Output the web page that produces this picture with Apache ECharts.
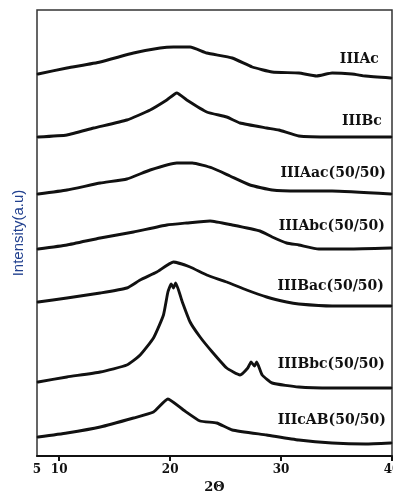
<!DOCTYPE html>
<html>
<head>
<meta charset="utf-8">
<script src="https://cdn.jsdelivr.net/npm/echarts@6/dist/echarts.min.js"></script>
<style>
  html, body { margin: 0; padding: 0; background: #fff; }
  #chart { width: 393px; height: 492px; }
</style>
</head>
<body>
<div id="chart"></div>
<script>
// sample names, top to bottom
const names = ['IIIAc', 'IIIBc', 'IIIAac(50/50)', 'IIIAbc(50/50)', 'IIIBac(50/50)', 'IIIBbc(50/50)', 'IIIcAB(50/50)'];

// 2θ positions and stacked intensities (offset a.u.)
const thetaIIIAc = [8.1, 10.7, 13.7, 16.7, 19.1, 20.3, 21.8, 23.3, 25.6, 27.4, 29.2, 31.6, 33.2, 34.6, 36.4, 37.6, 39.9];
const intIIIAc   = [382, 388, 394, 403, 408, 409, 409, 403, 398, 389, 384, 383, 380, 383, 382, 380, 378];

const thetaIIIBc = [8.1, 10.7, 13.1, 16.1, 18.2, 19.7, 20.6, 21.5, 23.3, 25.1, 26.3, 28.7, 29.8, 31.6, 34.6, 39.9];
const intIIIBc   = [319, 321, 328, 336, 346, 356, 363, 356, 344, 339, 333, 328, 326, 320, 319, 319];

const thetaIIIAac = [8.1, 10.7, 13.7, 16.1, 18.2, 20.6, 22.0, 23.8, 25.4, 27.2, 29.2, 31.6, 34.6, 39.9];
const intIIIAac   = [262, 266, 273, 277, 286, 293, 293, 288, 280, 271, 266, 265, 265, 262];

const thetaIIIAbc = [8.1, 10.7, 13.7, 16.7, 19.7, 21.5, 23.6, 25.6, 28.1, 29.2, 30.5, 31.6, 33.4, 36.1, 39.9];
const intIIIAbc   = [207, 211, 218, 224, 231, 233, 235, 231, 225, 219, 213, 211, 207, 207, 208];

const thetaIIIBac = [8.1, 10.7, 13.7, 16.1, 17.3, 18.8, 20.3, 21.8, 23.3, 25.1, 26.9, 28.7, 30.5, 31.6, 34.6, 39.9];
const intIIIBac   = [154, 158, 163, 168, 176, 184, 194, 189, 181, 174, 166, 159, 154, 152, 150, 150];

const thetaIIIBbc = [8.1, 10.7, 13.7, 16.1, 17.3, 18.5, 19.4, 19.8, 20.1, 20.3, 20.5, 21.1, 21.8, 22.7, 23.8, 25.1, 26.3, 27.0, 27.3, 27.6, 27.8, 28.3, 29.2, 31.6, 34.6, 39.9];
const intIIIBbc   = [74, 79, 84, 91, 101, 118, 141, 164, 172, 168, 173, 154, 134, 119, 104, 88, 81, 88, 94, 90, 94, 81, 73, 69, 68, 68];

const thetaIIIcAB = [8.1, 10.7, 13.7, 16.7, 18.5, 19.8, 21.2, 22.7, 24.2, 25.6, 28.7, 31.6, 34.6, 37.6, 39.9];
const intIIIcAB   = [19, 23, 29, 38, 44, 57, 46, 35, 33, 26, 21, 16, 13, 12, 13];

// x tick labels (left edge is labelled 5 in the original)
const tickValues = [10, 20, 30, 40];
const labelValues = [8, 10, 20, 30, 40];

const thetas = [thetaIIIAc, thetaIIIBc, thetaIIIAac, thetaIIIAbc, thetaIIIBac, thetaIIIBbc, thetaIIIcAB];
const ints = [intIIIAc, intIIIBc, intIIIAac, intIIIAbc, intIIIBac, intIIIBbc, intIIIcAB];

// label offsets from each curve's right end
const labelOffsets = [[-12, -19], [-9, -16], [-5, -21], [-6, -22], [-7, -20], [-6, -24], [-5, -23]];

const chart = echarts.init(document.getElementById('chart'));

const series = names.map((name, i) => ({
  name: name,
  type: 'line',
  data: thetas[i].map((t, j) => [t, ints[i][j]]),
  symbol: 'none',
  smooth: 0.15,
  silent: true,
  lineStyle: { color: '#111', width: 2.9, join: 'round', cap: 'round' },
  endLabel: {
    show: true,
    formatter: name,
    distance: 0,
    align: 'right',
    offset: labelOffsets[i],
    fontFamily: 'DejaVu Serif',
    fontWeight: 'bold',
    fontSize: 14,
    color: '#111'
  }
}));

chart.setOption({
  animation: false,
  backgroundColor: '#fff',
  grid: {
    left: 37,
    right: 1,
    top: 10,
    bottom: 36,
    show: true,
    borderColor: '#333',
    borderWidth: 1.5,
    containLabel: false,
    outerBoundsMode: 'none'
  },
  xAxis: {
    type: 'value',
    min: 8,
    max: 40,
    name: '2Θ',
    nameLocation: 'middle',
    nameGap: 24,
    nameTextStyle: { fontFamily: 'DejaVu Serif', fontWeight: 'bold', fontSize: 13, color: '#111' },
    axisLine: { show: true, lineStyle: { color: '#111', width: 2 } },
    axisTick: { show: true, customValues: tickValues, length: 5, lineStyle: { color: '#111', width: 2 } },
    axisLabel: {
      customValues: labelValues,
      formatter: v => (v === 8 ? '5' : String(v)),
      margin: 8,
      fontFamily: 'DejaVu Serif',
      fontWeight: 'bold',
      fontSize: 12,
      color: '#111'
    },
    splitLine: { show: false }
  },
  yAxis: {
    type: 'value',
    min: 0,
    max: 446,
    name: 'Intensity(a.u)',
    nameLocation: 'middle',
    nameGap: 11,
    nameTextStyle: { fontFamily: 'Liberation Sans', fontSize: 15, color: '#22418f' },
    axisLine: { show: false },
    axisTick: { show: false },
    axisLabel: { show: false },
    splitLine: { show: false }
  },
  series: series
});
</script>
</body>
</html>
